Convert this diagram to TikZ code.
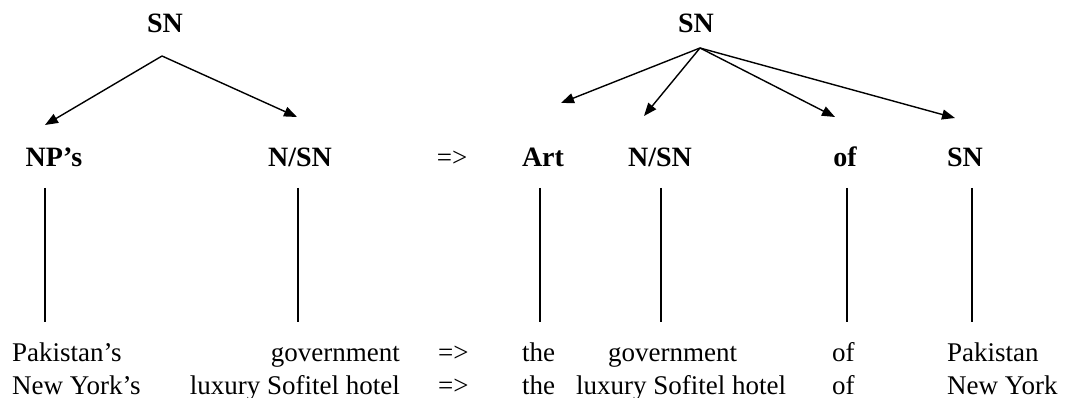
\documentclass[tikz,border=0pt]{standalone}
\usepackage{fontspec}
\setmainfont{Liberation Serif}
\usetikzlibrary{arrows.meta}
\tikzset{
  cat/.style={font=\fontsize{28}{33}\selectfont\bfseries, inner sep=0pt, anchor=base},
  word/.style={font=\fontsize{27}{33}\selectfont, inner sep=0pt, anchor=base west},
  branch/.style={line width=1.4pt, -{Triangle[length=13pt,width=10pt]}},
  stem/.style={line width=1.1pt}
}
\begin{document}
\begin{tikzpicture}
[x=1pt, y=-1pt]
\useasboundingbox (0,0) rectangle (1068,398);
% top labels
\node [cat] (snl) at (165,33) {SN};
\node [cat] (snr) at (696,33) {SN};
% category row
\node [cat] (nps) at (54,167) {NP’s};
\node [cat] (nsnl) at (300,167) {N/SN};
\node [word, anchor=base] (arr) at (452,167) {=>};
\node [cat] (art) at (543,167) {Art};
\node [cat] (nsnr) at (660,167) {N/SN};
\node [cat] (of) at (845,167) {of};
\node [cat] (snb) at (965,167) {SN};
% branches
\coordinate (ol) at (162,56);
\coordinate (or) at (700,48);
\draw [branch] (ol) -- (45,125) coordinate (tnps);
\draw [branch] (ol) -- (297,117) coordinate (tnsnl);
\draw [branch] (or) -- (561,103) coordinate (tart);
\draw [branch] (or) -- (644,116) coordinate (tnsnr);
\draw [branch] (or) -- (835,117) coordinate (tof);
\draw [branch] (or) -- (955,118) coordinate (tsnb);
% stems
\foreach \x/\n in {45/a, 298/b, 540/c, 661/d, 847/e, 972/f}
  \draw [stem] (\x,188) coordinate (top\n) -- (\x,322) coordinate (bot\n);
% examples, first row
\node [word] (w11) at (12,361) {Pakistan’s};
\node [word, anchor=base east] (w12) at (400,361) {government};
\node [word] (w13) at (438,361) {=>};
\node [word] (w14) at (522,361) {the};
\node [word] (w15) at (608,361) {government};
\node [word] (w16) at (832,361) {of};
\node [word] (w17) at (947,361) {Pakistan};
% examples, second row
\node [word] (w21) at (12,394) {New York’s};
\node [word, anchor=base east] (w22) at (400,394) {luxury Sofitel hotel};
\node [word] (w23) at (438,394) {=>};
\node [word] (w24) at (522,394) {the};
\node [word] (w25) at (576,394) {luxury Sofitel hotel};
\node [word] (w26) at (832,394) {of};
\node [word] (w27) at (947,394) {New York};
\end{tikzpicture}
\end{document}
